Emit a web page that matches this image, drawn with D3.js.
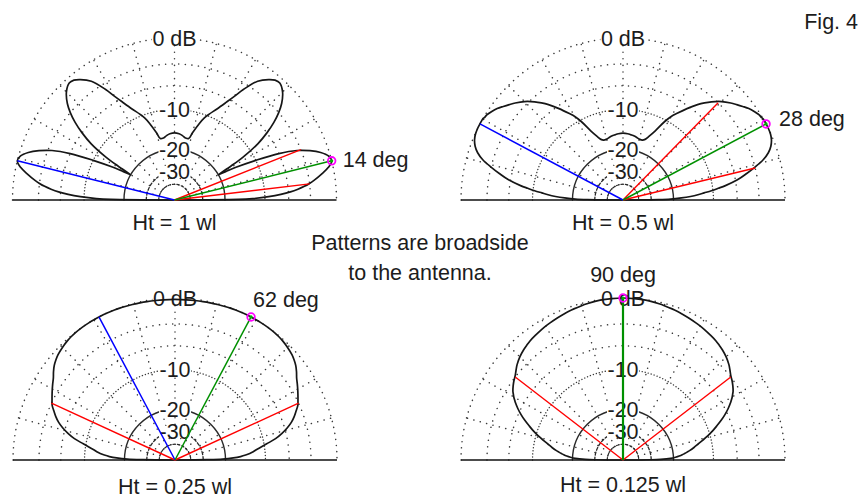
<!DOCTYPE html>
<html><head><meta charset="utf-8">
<script src="https://cdn.jsdelivr.net/npm/d3@7"></script>
<style>html,body{margin:0;padding:0;background:#fff;} svg{display:block;}</style>
</head><body>
<svg id="c" width="862" height="498"></svg>
<script>
// ---------------- data ----------------
const heightLabels = ["Ht = 1 wl", "Ht = 0.5 wl", "Ht = 0.25 wl", "Ht = 0.125 wl"];
// elevation angles (deg) of the half pattern 0..90; patterns are symmetric (broadside)
const elevationDeg = [0, 0.5, 1, 2, 3, 4, 5, 6, 7, 8, 10, 12, 14, 16, 18, 20, 22, 24, 26, 28, 29, 30, 31, 32,
  34, 36, 38, 40, 42, 45, 48, 50, 52, 55, 58, 60, 62, 65, 68, 70, 72, 75, 77, 80, 83, 86, 90];
// relative gain, dB
const gain1wl = [-99, -16, -12.5, -9.3, -7.2, -5.7, -4.6, -3.7, -3.0, -2.4, -1.4, -0.5, 0, -0.2, -0.9, -2.0, -3.5, -6.0, -10.0, -14.5, -17.5, -20.0, -15.5, -12.0,
  -8.2, -6.0, -4.3, -3.0, -2.0, -1.0, -0.5, -0.6, -1.0, -1.9, -3.7, -5.2, -6.5, -8.2, -9.6, -10.6, -12.0, -14.5, -16.2, -16.2, -15.7, -15.3, -15.1];
const gain05wl = [-99, -26, -21, -17.5, -15, -13.2, -11.8, -10.3, -9.0, -7.7, -5.7, -4.3, -3.0, -1.8, -1.0, -0.5, -0.2, -0.05, 0, 0, 0, 0, -0.1, -0.15,
  -0.4, -0.7, -1.1, -1.5, -1.9, -2.6, -3.5, -4.2, -5.0, -6.4, -7.9, -8.9, -10.3, -12.9, -14.8, -15.8, -16.2, -16.2, -16.0, -15.7, -15.5, -15.3, -15.2];
const gain025wl = [-99, -28, -21, -17.5, -15.5, -14.2, -13.2, -12.4, -11.8, -11.1, -9.5, -7.8, -6.6, -5.6, -4.8, -4.2, -3.7, -3.2, -2.9, -2.6, -2.45, -2.3, -2.15, -2.0,
  -1.7, -1.3, -0.95, -0.7, -0.5, -0.3, -0.15, -0.08, -0.04, -0.01, 0, 0, 0, 0, -0.02, -0.04, -0.06, -0.08, -0.1, -0.12, -0.14, -0.15, -0.15];
const gain0125wl = [-99, -30, -25, -21, -19.3, -18.1, -17.2, -16.5, -15.8, -15.1, -13.9, -12.8, -11.6, -10.4, -9.3, -8.3, -7.3, -6.4, -5.6, -4.9, -4.6, -4.3, -4.05, -3.8,
  -3.45, -3.15, -2.9, -2.55, -2.2, -1.8, -1.5, -1.35, -1.2, -1.05, -0.9, -0.8, -0.72, -0.6, -0.48, -0.4, -0.33, -0.24, -0.18, -0.1, -0.05, -0.02, 0];
const peakDeg = [14, 28, 62, 90];
const peakLabels = ["14 deg", "28 deg", "62 deg", "90 deg"];
const halfPowerDeg = [[6.8, 21.7], [13.6, 45.6], [24.7, 155.3], [37.6, 142.4]];
const halfPowerDb = -3;
const mirrorPeakDeg = [166, 152, 118, null];
const ringDb = [0, -3, -6, -10, -20, -30, -40];
const ringLabelDb = [0, -10, -20, -30];
const ringLabelText = ["0 dB", "-10", "-20", "-30"];
const spokeDeg = [15, 30, 45, 60, 75, 90, 105, 120, 135, 150, 165];
const noteLines = ["Patterns are broadside", "to the antenna."];
const figLabel = "Fig. 4";

// ---------------- layout ----------------
const W = 862, H = 498, R = 162;
const FONT = "'Liberation Sans', Arial, sans-serif";
const FS = 21.5;
const TXT = "#1c1c1c";
const centers = [[174.5, 200], [623, 200], [175, 460], [623, 460]];
const titleDy = [30, 30, 34, 32];
const peakLabelPlace = [
  {dx: 11, dy: 6.5, anchor: "start"},
  {dx: 13, dy: 2.5, anchor: "start"},
  {dx: 2, dy: -10, anchor: "start"},
  {dx: 0, dy: -16, anchor: "middle"}
];
const gains = [gain1wl, gain05wl, gain025wl, gain0125wl];

const svg = d3.select("#c");
svg.append("rect").attr("width", W).attr("height", H).attr("fill", "#fff");

// ARRL log scale: dB -> radius via the inverse of a log scale
const dbScale = d3.scaleLog().domain([R * Math.pow(0.89, 50), R]).range([-100, 0]);
const rOf = db => dbScale.invert(db);
// elevation angle -> lineRadial angle (0 deg = right, 90 = up, 180 = left)
const aScale = d3.scaleLinear().domain([0, 180]).range([Math.PI / 2, -Math.PI / 2]);
const pt = (el, db) => { const a = aScale(el), r = rOf(db); return [r * Math.sin(a), -r * Math.cos(a)]; };

const ringStyle = {
  "0": {dash: "0.1,6", w: 1.5, c: "#3a3a3a"},
  "-3": {dash: "0.1,6.5", w: 1.5, c: "#3a3a3a"},
  "-6": {dash: "0.1,6.5", w: 1.5, c: "#3a3a3a"},
  "-10": {dash: "0.1,3", w: 1.4, c: "#3a3a3a"},
  "-20": {dash: null, w: 1.4, c: "#2a2a2a"},
  "-30": {dash: "3,2", w: 1.3, c: "#2a2a2a"},
  "-40": {dash: "2.5,2", w: 1.2, c: "#2a2a2a"}
};

const radial = d3.lineRadial()
  .angle(d => aScale(d.el))
  .radius(d => rOf(d.db))
  .curve(d3.curveCatmullRom.alpha(0.5));

centers.forEach(([cx, cy], k) => {
  const g = svg.append("g").attr("transform", `translate(${cx},${cy})`);

  // spokes
  spokeDeg.forEach(el => {
    const p0 = pt(el, -40), p1 = pt(el, 0);
    g.append("line").attr("x1", p0[0]).attr("y1", p0[1]).attr("x2", p1[0]).attr("y2", p1[1])
      .attr("stroke", "#3a3a3a").attr("stroke-width", 1.5).attr("stroke-linecap", "round")
      .attr("stroke-dasharray", "0.1,6.5");
  });
  // rings
  ringDb.forEach(db => {
    const r = rOf(db), s = ringStyle[String(db)];
    const p = d3.path();
    p.moveTo(-r, 0);
    p.arc(0, 0, r, Math.PI, 2 * Math.PI);
    const el = g.append("path").attr("d", p.toString()).attr("fill", "none")
      .attr("stroke", s.c).attr("stroke-width", s.w).attr("stroke-linecap", "round");
    if (s.dash) el.attr("stroke-dasharray", s.dash);
  });
  // baseline
  g.append("line").attr("x1", -R).attr("x2", R).attr("y1", 0).attr("y2", 0)
    .attr("stroke", "#111").attr("stroke-width", 1.6);

  // ring labels with white background
  ringLabelDb.forEach((db, i) => {
    const y = -rOf(db);
    const t = g.append("text").attr("x", 0).attr("y", y + 7.6).attr("text-anchor", "middle")
      .attr("font-family", FONT).attr("font-size", FS).attr("fill", TXT).text(ringLabelText[i]);
    const bb = t.node().getBBox();
    g.insert("rect", "text").attr("x", bb.x - 0.5).attr("y", y - 6).attr("width", bb.width + 1).attr("height", 12)
      .attr("fill", "#fff");
  });

  // pattern (half data, mirrored for the symmetric broadside pattern)
  const half = elevationDeg.map((e, i) => ({el: e, db: gains[k][i]}));
  const full = half.concat(half.slice(0, -1).reverse().map(d => ({el: 180 - d.el, db: d.db})));
  g.append("path").attr("d", radial(full)).attr("fill", "none")
    .attr("stroke", "#161616").attr("stroke-width", 1.7).attr("stroke-linejoin", "round");

  // reference lines
  const ray = (el, db, col, w) => {
    const p = pt(el, db);
    g.append("line").attr("x1", 0).attr("y1", 0).attr("x2", p[0]).attr("y2", p[1])
      .attr("stroke", col).attr("stroke-width", w);
  };
  halfPowerDeg[k].forEach(el => ray(el, halfPowerDb, "#ff0000", 1.4));
  if (mirrorPeakDeg[k] !== null) ray(mirrorPeakDeg[k], 0, "#0000ff", 1.5);
  ray(peakDeg[k], 0, "#009000", k === 3 ? 2.2 : 1.5);

  // peak marker
  const pk = pt(peakDeg[k], 0);
  g.append("circle").attr("cx", pk[0]).attr("cy", pk[1]).attr("r", 3.8)
    .attr("fill", "none").attr("stroke", "#ff00ff").attr("stroke-width", 1.8);
  g.append("circle").attr("cx", pk[0]).attr("cy", pk[1]).attr("r", 1.6).attr("fill", "#00b000");

  // peak label
  const pl = peakLabelPlace[k];
  g.append("text").attr("x", pk[0] + pl.dx).attr("y", pk[1] + pl.dy).attr("text-anchor", pl.anchor)
    .attr("font-family", FONT).attr("font-size", FS).attr("fill", TXT).text(peakLabels[k]);

  // title
  g.append("text").attr("x", 0).attr("y", titleDy[k]).attr("text-anchor", "middle")
    .attr("font-family", FONT).attr("font-size", FS).attr("fill", TXT).text(heightLabels[k]);
});

// note and figure label
noteLines.forEach((s, i) => {
  svg.append("text").attr("x", 420).attr("y", 250 + i * 30).attr("text-anchor", "middle")
    .attr("font-family", FONT).attr("font-size", FS).attr("fill", TXT).text(s);
});
svg.append("text").attr("x", 858).attr("y", 29).attr("text-anchor", "end")
  .attr("font-family", FONT).attr("font-size", FS).attr("fill", TXT).text(figLabel);
</script>
</body></html>
